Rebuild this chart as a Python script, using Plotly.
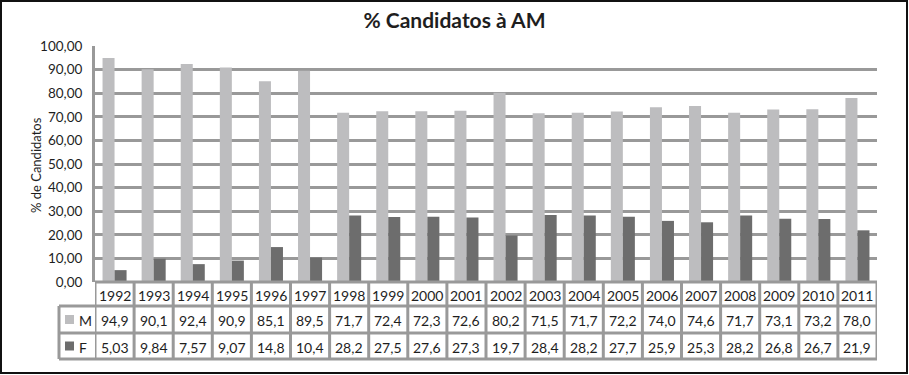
import plotly.graph_objects as go

years = ["1992", "1993", "1994", "1995", "1996", "1997", "1998", "1999", "2000", "2001",
         "2002", "2003", "2004", "2005", "2006", "2007", "2008", "2009", "2010", "2011"]
m_values = [94.9, 90.1, 92.4, 90.9, 85.1, 89.5, 71.7, 72.4, 72.3, 72.6,
            80.2, 71.5, 71.7, 72.2, 74.0, 74.6, 71.7, 73.1, 73.2, 78.0]
f_values = [5.03, 9.84, 7.57, 9.07, 14.8, 10.4, 28.2, 27.5, 27.6, 27.3,
            19.7, 28.4, 28.2, 27.7, 25.9, 25.3, 28.2, 26.8, 26.7, 21.9]
series_names = ["M", "F"]
title_text = "% Candidatos à AM"
y_title = "% de Candidatos"

W, H = 909, 375
L, R, T, B = 95, 877, 46, 282  # plot area in pixels
PW, PH = R - L, B - T

def px(x):
    return (x - L) / PW

def py(y):
    return (B - y) / PH

def fmt(v):
    return f"{v:#.3g}".replace(".", ",")

M_COL = "#bdbdbf"
F_COL = "#6d6d6d"
GRID = "#999999"
TFONT = "Lato"
TXT = "#1e1e1e"

fig = go.Figure()
fig.add_bar(x=years, y=m_values, name="M", marker=dict(color=M_COL, line=dict(width=0)))
fig.add_bar(x=years, y=f_values, name="F", marker=dict(color=F_COL, line=dict(width=0)))

shapes = []
annotations = []

row_y = [282, 306, 333, 359]
tl = dict(color=GRID, width=3)
shapes.append(dict(type="line", xref="paper", yref="paper", x0=px(L), x1=px(R), y0=py(282), y1=py(282), line=tl))
for yy in row_y[1:]:
    shapes.append(dict(type="line", xref="paper", yref="paper", x0=px(59), x1=px(R), y0=py(yy), y1=py(yy), line=tl))
shapes.append(dict(type="line", xref="paper", yref="paper", x0=px(59), x1=px(59), y0=py(306), y1=py(359), line=tl))
for i in range(len(years) + 1):
    shapes.append(dict(type="line", xref="x", yref="paper", x0=i - 0.5, x1=i - 0.5,
                       y0=py(282), y1=py(359), line=tl))

row_centers = [(row_y[k] + row_y[k + 1]) / 2 + 1 for k in range(3)]
cell_font = dict(size=14, color=TXT, family=TFONT)
for i, yr in enumerate(years):
    for k, txt in enumerate([yr, fmt(m_values[i]), fmt(f_values[i])]):
        annotations.append(dict(x=i, y=py(row_centers[k]), xref="x", yref="paper", text=txt,
                                xanchor="center", yanchor="middle", showarrow=False, font=cell_font))

for k, (name, col) in enumerate(zip(series_names, [M_COL, F_COL])):
    cy = row_centers[k + 1] - 1
    shapes.append(dict(type="rect", xref="paper", yref="paper", x0=px(65), x1=px(74),
                       y0=py(cy + 4.5), y1=py(cy - 4.5), fillcolor=col, line=dict(width=0)))
    annotations.append(dict(x=px(77), y=py(cy + 1), xref="paper", yref="paper", text=name, xanchor="left",
                            yanchor="middle", showarrow=False, font=cell_font))

# y-axis title
annotations.append(dict(x=px(36), y=py(165), xref="paper", yref="paper", text=y_title, textangle=-90,
                        xanchor="center", yanchor="middle", showarrow=False,
                        font=dict(size=13, color=TXT, family=TFONT)))

shapes.append(dict(type="rect", xref="paper", yref="paper", x0=px(1), x1=px(907), y0=py(373), y1=py(1),
                   line=dict(color="#111111", width=2), fillcolor="rgba(0,0,0,0)", layer="above"))

fig.update_layout(
    width=W, height=H,
    margin=dict(l=L, r=W - R, t=T, b=H - B, pad=0, autoexpand=False),
    paper_bgcolor="white", plot_bgcolor="white",
    barmode="group", bargap=0.385, bargroupgap=0,
    showlegend=False,
    separators=",.",
    title=dict(text=f"<b>{title_text}</b>", x=0.5, xanchor="center", y=1 - 21 / H, yanchor="middle",
               font=dict(size=21, color=TXT, family=TFONT)),
    shapes=shapes,
    annotations=annotations,
    font=dict(family=TFONT, color=TXT),
)
fig.update_xaxes(type="category", showticklabels=False, showgrid=False, ticks="",
                 showline=False, zeroline=False, range=[-0.5, len(years) - 0.5])
fig.update_yaxes(range=[0, 100], dtick=10, tickformat=".2f", showgrid=True, gridcolor=GRID, gridwidth=3,
                 showline=True, linecolor=GRID, linewidth=3, zeroline=False,
                 ticks="", ticklabelstandoff=7,
                 tickfont=dict(size=13.5, color=TXT, family=TFONT))

fig.write_html("out.html", config={"displayModeBar": False},
               post_script="document.body.style.margin='0';document.body.style.padding='0';")
